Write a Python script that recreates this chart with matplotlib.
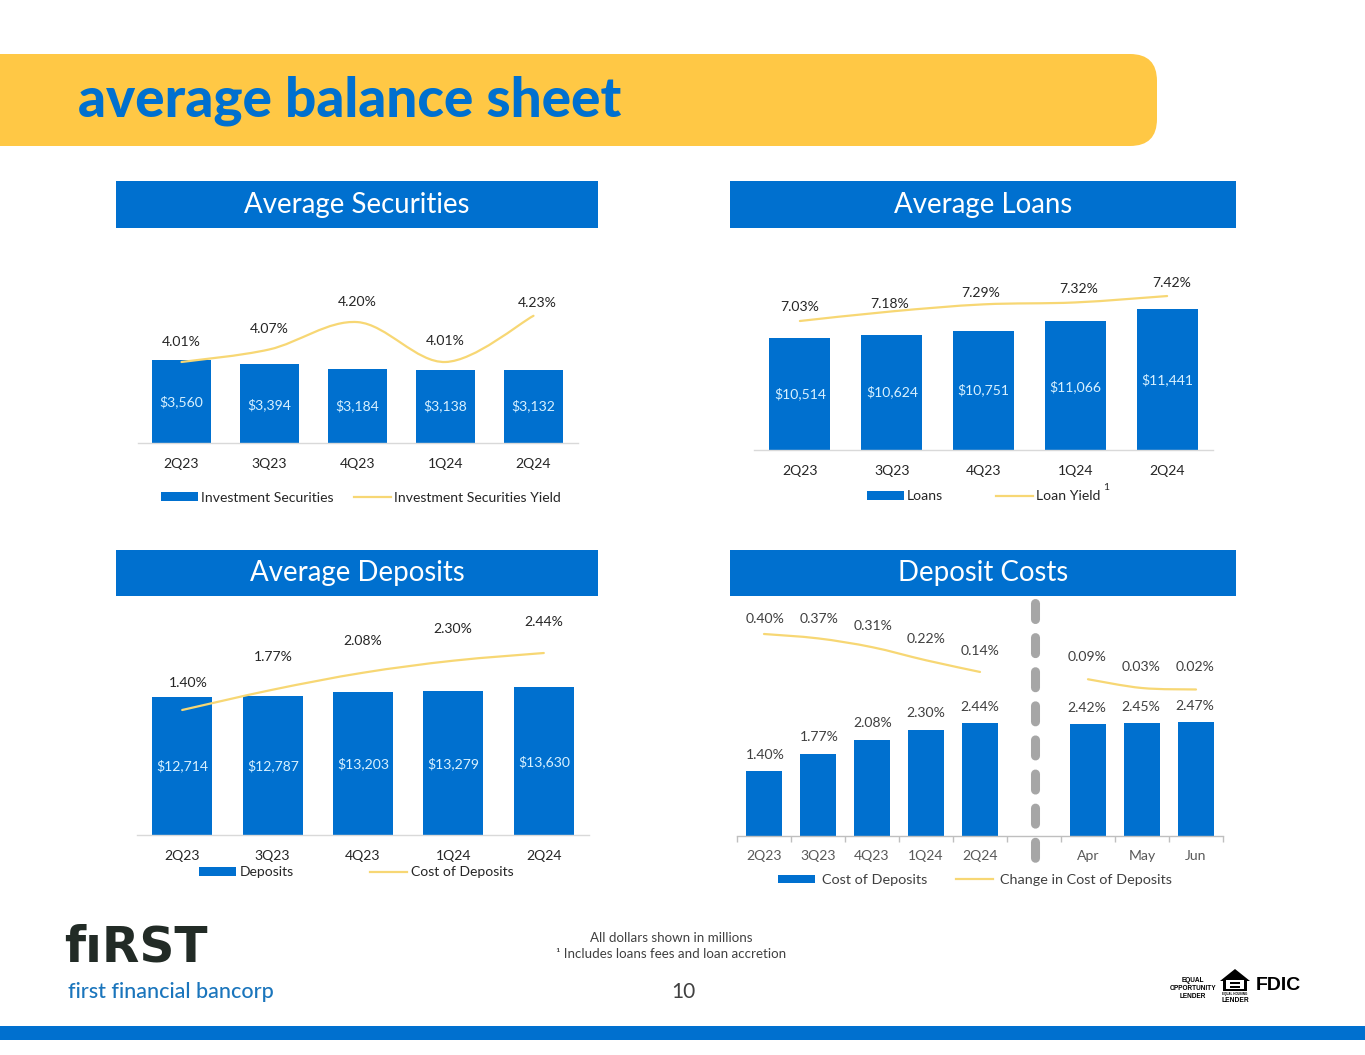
import matplotlib
matplotlib.use("Agg")
import matplotlib.pyplot as plt
from matplotlib.patches import Rectangle, FancyBboxPatch, PathPatch, Patch, Polygon
from matplotlib.path import Path
from matplotlib.lines import Line2D
from matplotlib.transforms import Affine2D

W, H = 1365, 1055
BLUE = "#0070CF"
YEL = "#F7D774"
BANNER = "#FFC845"
INK = "#262626"
SOFT = "#404040"
LIGHT = "#D8F1FF"
plt.rcParams["font.family"] = ["Lato", "DejaVu Sans"]

# ---------- data ----------
quarters = ["2Q23", "3Q23", "4Q23", "1Q24", "2Q24"]

securities = [3560, 3394, 3184, 3138, 3132]
securities_yield = [4.01, 4.07, 4.20, 4.01, 4.23]

loans = [10514, 10624, 10751, 11066, 11441]
loan_yield = [7.03, 7.18, 7.29, 7.32, 7.42]

deposits = [12714, 12787, 13203, 13279, 13630]
deposit_cost = [1.40, 1.77, 2.08, 2.30, 2.44]

cost_labels = ["2Q23", "3Q23", "4Q23", "1Q24", "2Q24", "", "Apr", "May", "Jun"]
cost_quarterly = [1.40, 1.77, 2.08, 2.30, 2.44]
cost_monthly = [2.42, 2.45, 2.47]
change_quarterly = [0.40, 0.37, 0.31, 0.22, 0.14]
change_monthly = [0.09, 0.03, 0.02]

fig = plt.figure(figsize=(W / 100, H / 100), dpi=100, facecolor="white")
px = Affine2D().scale(1, -1).translate(0, H)


def smooth(ax, xs, ys, **kw):
    """Excel-style smoothed line through the data values, as Bezier segments."""
    n = len(xs)
    verts = [(xs[0], ys[0])]
    codes = [Path.MOVETO]
    for i in range(n - 1):
        p0 = (xs[max(i - 1, 0)], ys[max(i - 1, 0)])
        p1 = (xs[i], ys[i])
        p2 = (xs[i + 1], ys[i + 1])
        p3 = (xs[min(i + 2, n - 1)], ys[min(i + 2, n - 1)])
        c1 = (p1[0] + (p2[0] - p0[0]) / 6, p1[1] + (p2[1] - p0[1]) / 6)
        c2 = (p2[0] - (p3[0] - p1[0]) / 6, p2[1] - (p3[1] - p1[1]) / 6)
        verts += [c1, c2, p2]
        codes += [Path.CURVE4] * 3
    ax.add_patch(PathPatch(Path(verts, codes), fill=False, ec=YEL, lw=1.6,
                           capstyle="round", zorder=3))


def chart(box, bar_lim, line_lim):
    x0, y0, x1, y1 = box
    ax = fig.add_axes([x0 / W, 1 - y1 / H, (x1 - x0) / W, (y1 - y0) / H])
    ax.patch.set_alpha(0)
    ax.set_ylim(*bar_lim)
    for s in ("top", "left", "right"):
        ax.spines[s].set_visible(False)
    ax.spines["bottom"].set_color("#D9D9D9")
    ax.spines["bottom"].set_linewidth(1.0)
    ax.yaxis.set_visible(False)
    tw = ax.twinx()
    tw.set_ylim(*line_lim)
    tw.axis("off")
    return ax, tw


def legend(ax, bar_name, line_name, x, y, pad, col, size=10.1, color=INK):
    ax.legend(
        [Patch(fc=BLUE, ec="none"), Line2D([], [], color=YEL, lw=1.6)],
        [bar_name, line_name], ncol=2, loc="center left", bbox_to_anchor=(x, y),
        bbox_transform=px, frameon=False, fontsize=size, labelcolor=color,
        handlelength=37 / (size / 0.72), handleheight=0.55,
        handletextpad=pad / (size / 0.72), columnspacing=col / (size / 0.72),
        borderpad=0, borderaxespad=0,
    )


def labels(ax, texts, xs, ys, color, size=10.1):
    for t, x, y in zip(texts, xs, ys):
        ax.text(x, y, t, transform=px, ha="center", va="center", color=color,
                fontsize=size, clip_on=False, zorder=6)


def std_chart(box, bar_lim, line_lim, width, vals, rates, tick_pad):
    ax, tw = chart(box, bar_lim, line_lim)
    xs = list(range(len(vals)))
    ax.bar(xs, vals, width=width, color=BLUE, zorder=2)
    ax.set_xlim(-0.5, 4.5)
    ax.set_xticks(xs, quarters)
    ax.tick_params(axis="x", length=0, pad=tick_pad, labelsize=10.1, labelcolor=INK)
    tw.set_xlim(-0.5, 4.5)
    smooth(tw, xs, rates)
    return ax, tw


# ---------- page furniture ----------
bg = fig.add_axes([0, 0, 1, 1], zorder=-1)
bg.set_xlim(0, W)
bg.set_ylim(H, 0)
bg.axis("off")
bg.add_patch(FancyBboxPatch((-60, 54), 1217, 92, boxstyle="round,pad=0,rounding_size=27",
                            fc=BANNER, ec="none"))
bg.text(78, 116, "average balance sheet", color=BLUE, fontsize=39.5, fontweight="black",
        va="baseline", ha="left")
for (x, y, w, h, t) in [(116, 181, 482, 47, "Average Securities"),
                        (730, 181, 506, 47, "Average Loans"),
                        (116, 550, 482, 46, "Average Deposits"),
                        (730, 550, 506, 46, "Deposit Costs")]:
    bg.add_patch(Rectangle((x, y), w, h, fc=BLUE, ec="none"))
    bg.text(x + w / 2, y + h / 2, t, color="white", fontsize=19.9, ha="center", va="center")
bg.add_patch(Rectangle((0, 1026), W, 14, fc=BLUE, ec="none"))

# logo and footer
bg.text(64, 961, "fıRST", color="#222B26", fontsize=35, fontweight="bold",
        family=["DejaVu Sans"], va="baseline", ha="left")
bg.text(68, 998, "first financial bancorp", color="#1A75BC", fontsize=15.5,
        va="baseline", ha="left", fontweight="medium")
bg.text(671, 938, "All dollars shown in millions", color=SOFT, fontsize=9.6, ha="center", va="center")
bg.text(671, 954, "¹ Includes loans fees and loan accretion", color=SOFT, fontsize=9.6, ha="center", va="center")
bg.text(683, 992, "10", color=SOFT, fontsize=15, ha="center", va="center")
SANS = ["Liberation Sans"]
for y, t in [(980, "EQUAL"), (988, "OPPORTUNITY"), (996, "LENDER")]:
    bg.text(1193, y, t, color="black", fontsize=4.7, fontweight="bold", family=SANS,
            ha="center", va="center")
bg.add_patch(Polygon([(1235, 969), (1250, 981), (1247, 981), (1247, 991), (1223, 991),
                      (1223, 981), (1220, 981)], closed=True, fc="black", ec="none"))
bg.add_patch(Rectangle((1226, 980), 18, 9, fc="white", ec="none"))
bg.add_patch(Rectangle((1230, 982), 10, 2, fc="black", ec="none"))
bg.add_patch(Rectangle((1230, 986), 10, 2, fc="black", ec="none"))
bg.text(1235, 994, "EQUAL HOUSING", color="black", fontsize=2.2, fontweight="bold", family=SANS,
        ha="center", va="center")
bg.text(1235, 1000.5, "LENDER", color="black", fontsize=4.8, fontweight="bold", family=SANS,
        ha="center", va="center")
bg.text(1278.5, 986, "FDIC", color="black", fontsize=14, fontweight="bold", family=SANS,
        ha="center", va="center")

# ---------- Average Securities ----------
ax, tw = std_chart((137.5, 270, 577.5, 443), (0, 173 / 83 * 3560),
                   (4.01 - 81 / 210, 4.01 + 92 / 210), 59 / 88, securities, securities_yield, 11)
labels(tw, [f"{v:.2f}%" for v in securities_yield],
       [181.5, 269.5, 357.5, 445.5, 537], [342, 329, 302, 341, 303], INK)
labels(tw, [f"${v:,}" for v in securities],
       [181, 269, 357, 445, 533], [402, 405, 406, 406, 406], LIGHT)
legend(tw, "Investment Securities", "Investment Securities Yield", 161, 497.5, 3, 20)

# ---------- Average Loans ----------
ax, tw = std_chart((754, 270, 1213, 450), (7000, 7000 + 180 / 0.0318),
                   (7.03 - 129 / 64, 7.03 + 51 / 64), 61 / 91.8, loans, loan_yield, 11)
labels(tw, [f"{v:.2f}%" for v in loan_yield],
       [800, 890, 981, 1079, 1172], [307, 304, 293, 289, 283], INK)
labels(tw, [f"${v:,}" for v in loans],
       [800, 892, 983, 1075, 1167], [394, 392, 390, 387, 380], LIGHT)
legend(tw, "Loans", "Loan Yield", 867, 496.5, 3, 53)
tw.text(1106, 487, "1", transform=px, fontsize=7.5, color=INK, ha="center", va="center", clip_on=False)

# ---------- Average Deposits ----------
ax, tw = std_chart((137, 600, 589, 835), (0, 235 / 0.01086),
                   (1.40 - 125 / 54.8, 1.40 + 110 / 54.8), 60 / 90.4, deposits, deposit_cost, 11)
labels(tw, [f"{v:.2f}%" for v in deposit_cost],
       [188, 273, 363, 453, 544], [683, 657, 641, 629, 622], INK)
labels(tw, [f"${v:,}" for v in deposits],
       [182, 273, 363, 453, 544], [766, 766, 764, 764, 762], LIGHT)
legend(tw, "Deposits", "Cost of Deposits", 199, 872.5, 4, 76)

# ---------- Deposit Costs ----------
ax, tw = chart((737, 600, 1223, 836), (0, 236 / 46.3), (0.40 - 202 / 146, 0.40 + 34 / 146))
q_x = [0, 1, 2, 3, 4]
m_x = [6, 7, 8]
ax.bar(q_x, cost_quarterly, width=36 / 54, color=BLUE, zorder=2)
ax.bar(m_x, cost_monthly, width=36 / 54, color=BLUE, zorder=2)
ax.set_xlim(-0.5, 8.5)
tw.set_xlim(-0.5, 8.5)
ax.spines["bottom"].set_color("#BFBFBF")
ax.set_xticks(range(9), cost_labels)
ax.set_xticks([i - 0.5 for i in range(10)], minor=True)
ax.tick_params(axis="x", which="major", length=0, pad=10, labelsize=10.1, labelcolor="#595959")
ax.tick_params(axis="x", which="minor", length=4.5, width=1, color="#BFBFBF")
smooth(tw, q_x, change_quarterly)
smooth(tw, m_x, change_monthly)
labels(tw, [f"{v:.2f}%" for v in change_quarterly + change_monthly],
       [765, 819, 873, 926, 980, 1087, 1141, 1195], [619, 619, 626, 639, 651, 657, 667, 667], SOFT)
labels(tw, [f"{v:.2f}%" for v in cost_quarterly + cost_monthly],
       [765, 819, 873, 926, 980, 1087, 1141, 1195], [755, 737, 723, 713, 707, 708, 707, 706], SOFT)
legend(tw, "Cost of Deposits", "Change in Cost of Deposits", 778, 880, 7, 28.5, size=10.35, color=SOFT)
tw.add_line(Line2D([1035, 1035], [602.5, 858], transform=px, color="#A6A6A6", lw=6.5,
                   linestyle=(0, (16 / 9, 2)), dash_capstyle="round", clip_on=False, zorder=5))

fig.savefig("out.png", dpi=100, facecolor="white")
